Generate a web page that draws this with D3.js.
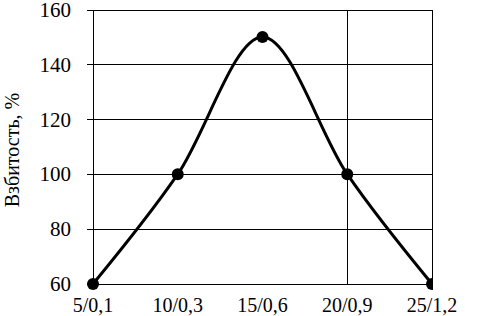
<!DOCTYPE html>
<html>
<head>
<meta charset="utf-8">
<script src="https://cdn.jsdelivr.net/npm/d3@7"></script>
<style>
  body { margin: 0; background: #fff; }
  svg { display: block; font-family: "Liberation Serif", "Times New Roman", serif; }
</style>
</head>
<body>
<div id="chart"></div>
<script>
// data
const categories = ["5/0,1", "10/0,3", "15/0,6", "20/0,9", "25/1,2"];
const values = [60, 100, 150, 100, 60];
const yTicks = [60, 80, 100, 120, 140, 160];
const vGridCats = ["20/0,9", "25/1,2"];
const yTitle = "Взбитость, %";

const width = 478, height = 316;
const margin = { top: 9.5, right: 46, bottom: 32, left: 93 };
const serif = '"Liberation Serif", "Times New Roman", serif';

const svg = d3.select('#chart').append('svg')
    .attr('width', width)
    .attr('height', height);

const x = d3.scalePoint()
    .domain(categories)
    .range([margin.left, width - margin.right]);

const y = d3.scaleLinear()
    .domain([60, 160])
    .range([height - margin.bottom, margin.top]);

// horizontal grid + y axis ticks
const yAxis = svg.append('g')
    .attr('transform', `translate(${margin.left},0)`)
    .call(d3.axisLeft(y)
        .tickValues(yTicks)
        .tickSize(6)
        .tickPadding(16)
        .tickFormat(d3.format('d')));
yAxis.attr('font-family', serif);
yAxis.select('.domain').remove();
yAxis.selectAll('.tick line').clone()
    .attr('x2', width - margin.right - margin.left);
yAxis.selectAll('line')
    .attr('stroke', '#000')
    .attr('shape-rendering', 'crispEdges');
yAxis.selectAll('text')
    .attr('font-size', 21)
    .attr('fill', '#000');

// left axis line
svg.append('line')
    .attr('x1', x(categories[0])).attr('x2', x(categories[0]))
    .attr('y1', y(160)).attr('y2', y(60))
    .attr('stroke', '#000')
    .attr('shape-rendering', 'crispEdges');

// vertical grid lines
svg.selectAll('.vgrid')
    .data(vGridCats)
    .enter().append('line')
    .attr('class', 'vgrid')
    .attr('x1', d => x(d)).attr('x2', d => x(d))
    .attr('y1', y(160)).attr('y2', y(60))
    .attr('stroke', '#000')
    .attr('shape-rendering', 'crispEdges');

// x labels
svg.selectAll('.xlab')
    .data(categories)
    .enter().append('text')
    .attr('class', 'xlab')
    .attr('x', d => x(d))
    .attr('y', y(60) + 28)
    .attr('text-anchor', 'middle')
    .attr('font-family', serif)
    .attr('font-size', 20)
    .text(d => d);

// y title
svg.append('text')
    .attr('transform', `translate(19, 150) rotate(-90)`)
    .attr('text-anchor', 'middle')
    .attr('font-family', serif)
    .attr('font-size', 20)
    .text(yTitle);

// series clipped at right edge of plot
svg.append('clipPath').attr('id', 'plotclip')
    .append('rect')
    .attr('x', 0).attr('y', 0)
    .attr('width', x(categories[categories.length - 1]) + 1)
    .attr('height', height);

const series = svg.append('g').attr('clip-path', 'url(#plotclip)');
const pts = categories.map((c, i) => ({ c, v: values[i] }));

const line = d3.line()
    .x(d => x(d.c))
    .y(d => y(d.v))
    .curve(d3.curveCardinal.tension(0));

series.append('path')
    .datum(pts)
    .attr('d', line)
    .attr('fill', 'none')
    .attr('stroke', '#000')
    .attr('stroke-width', 3);

series.selectAll('circle')
    .data(pts)
    .enter().append('circle')
    .attr('cx', d => x(d.c))
    .attr('cy', d => y(d.v))
    .attr('r', 6)
    .attr('fill', '#000');
</script>
</body>
</html>
